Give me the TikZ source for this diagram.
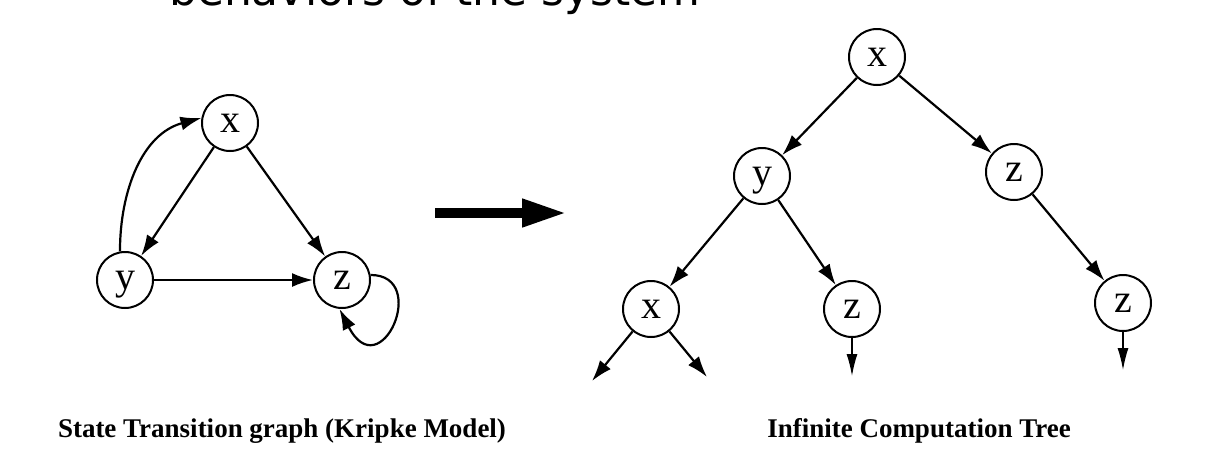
\documentclass[tikz,border=0pt]{standalone}
\usepackage{fontspec}
\setmainfont{Liberation Serif}
\newfontfamily\slidefont{DejaVu Sans}
\usetikzlibrary{positioning, arrows.meta}

\tikzset{
  kstate/.style={circle, draw, line width=1pt, minimum size=28pt, inner sep=0pt, text height=9.2pt, text depth=0pt, font=\fontsize{20pt}{20pt}\selectfont},
  caption/.style={font=\bfseries\fontsize{13.5pt}{14pt}\selectfont, anchor=base},
  stub/.style={line width=0.7pt, -{Latex[length=11pt, width=5.5pt]}}
}

\begin{document}
\begin{tikzpicture}[x=0.5pt, y=-0.5pt, on grid, line width=1.1pt, >={Latex[length=10.5pt, width=7pt]}]
  \useasboundingbox (0,0) rectangle (1228,468);
  % slide title, cut off at the top
  \node[font=\slidefont\fontsize{22pt}{22pt}\selectfont, anchor=base west, inner sep=0pt] (title) at (168,5) {behaviors of the system};

  % Kripke model
  \node[kstate] (kx) at (230,123) {x};
  \node[kstate] (ky) [below left=78.5pt and 52.5pt of kx] {y};
  \node[kstate] (kz) [right=108.5pt of ky] {z};
  \path[->]
    (kx) edge (ky)
    (kx) edge (kz)
    (ky) edge (kz)
    (ky.100) edge [out=90, in=195] (kx.170);
  \draw[->] (kz.10) .. controls +(60,0) and +(41,80) .. (kz.-95);
  \node[caption] (kcap) at (282,437) {State Transition graph (Kripke Model)};

  % big arrow
  \coordinate (arrowstart) at (435,213);
  \coordinate (arrowend) at (567,213);
  \draw[line width=5pt, -{Triangle[length=22.5pt, width=13pt]}] (arrowstart) -- (arrowend);

  % computation tree
  \node[kstate] (tx) at (877,57) {x};
  \node[kstate] (ty) [below left=59.5pt and 57.5pt of tx] {y};
  \node[kstate] (tz) [below right=57.5pt and 68.5pt of tx] {z};
  \node[kstate] (txx) [below left=66.5pt and 55.5pt of ty] {x};
  \node[kstate] (tzz) [below right=66.5pt and 45pt of ty] {z};
  \node[kstate] (tzzz) [below right=65.5pt and 54.5pt of tz] {z};
  \coordinate[below left=36pt and 29.5pt of txx] (leafa);
  \coordinate[below right=34pt and 28pt of txx] (leafb);
  \coordinate[below=33.5pt of tzz] (leafc);
  \coordinate[below=33.5pt of tzzz] (leafd);
  \path[->]
    (tx) edge (ty)
    (tx) edge (tz)
    (ty) edge (txx)
    (ty) edge (tzz)
    (tz) edge (tzzz)
    (txx) edge (leafa)
    (txx) edge (leafb);
  \draw[stub] (tzz) -- (leafc);
  \draw[stub] (tzzz) -- (leafd);
  \node[caption] (tcap) at (919,437) {Infinite Computation Tree};
\end{tikzpicture}
\end{document}
